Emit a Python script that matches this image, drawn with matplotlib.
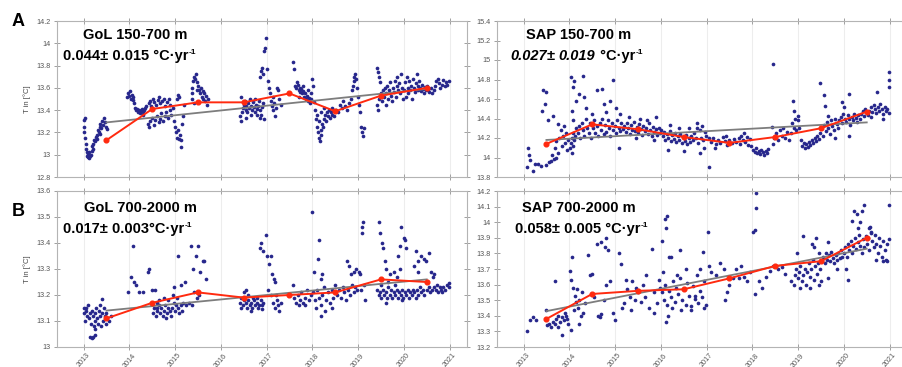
import numpy as np
import matplotlib
matplotlib.use("Agg")
import matplotlib.pyplot as plt
from matplotlib.ticker import FormatStrFormatter

plt.rcParams['font.family'] = ['Liberation Sans', 'DejaVu Sans']

gol_up = [
    (2013.00,13.31),(2013.01,13.25),(2013.02,13.20),(2013.03,13.33),(2013.04,13.15),(2013.05,13.10),(2013.06,13.05),
    (2013.07,13.02),(2013.08,12.99),(2013.10,12.98),(2013.12,12.97),(2013.14,12.99),(2013.16,13.00),(2013.18,13.03),
    (2013.19,13.08),(2013.21,13.10),(2013.23,13.13),(2013.25,13.12),(2013.27,13.16),(2013.29,13.18),(2013.31,13.22),
    (2013.33,13.20),(2013.35,13.25),(2013.37,13.28),(2013.39,13.24),(2013.41,13.30),(2013.43,13.27),(2013.45,13.33),
    (2013.47,13.29),(2013.50,13.25),(2013.52,13.23),(2013.20,13.05),(2013.09,13.01),(2013.13,13.02),(2013.30,13.14),
    (2013.36,13.19),
    (2013.95,13.52),(2013.97,13.55),(2013.99,13.53),(2014.01,13.57),(2014.03,13.50),(2014.05,13.54),(2014.07,13.52),
    (2014.09,13.49),(2014.11,13.46),(2014.13,13.42),(2014.15,13.40),(2014.17,13.41),(2014.19,13.38),(2014.21,13.40),
    (2014.23,13.37),(2014.25,13.39),(2014.27,13.41),(2014.29,13.38),(2014.31,13.36),(2014.33,13.40),(2014.35,13.42),
    (2014.37,13.44),
    (2014.42,13.46),(2014.45,13.48),(2014.48,13.44),(2014.52,13.50),(2014.55,13.47),(2014.58,13.45),(2014.62,13.49),
    (2014.65,13.52),(2014.68,13.46),(2014.72,13.48),(2014.75,13.50),(2014.78,13.44),(2014.82,13.47),(2014.86,13.50),
    (2014.90,13.45),(2014.40,13.28),(2014.43,13.25),(2014.46,13.30),(2014.50,13.33),(2014.54,13.27),(2014.57,13.31),
    (2014.60,13.35),(2014.64,13.29),(2014.67,13.32),(2014.70,13.37),(2014.74,13.30),(2014.77,13.35),(2014.80,13.38),
    (2014.84,13.33),(2014.88,13.40),(2014.92,13.36),
    (2014.96,13.42),(2014.98,13.30),(2015.00,13.25),(2015.02,13.20),(2015.04,13.15),(2015.06,13.22),(2015.08,13.14),
    (2015.10,13.18),(2015.12,13.07),(2015.14,13.13),(2015.05,13.50),(2015.07,13.54),(2015.09,13.52),(2015.16,13.28),
    (2015.18,13.35),(2015.20,13.45),
    (2015.36,13.55),(2015.38,13.60),(2015.40,13.66),(2015.42,13.70),(2015.44,13.68),(2015.46,13.72),(2015.48,13.65),
    (2015.50,13.62),(2015.52,13.58),(2015.54,13.55),(2015.56,13.60),(2015.58,13.52),(2015.60,13.57),(2015.62,13.50),
    (2015.64,13.55),(2015.66,13.48),(2015.68,13.53),(2015.70,13.45),(2015.72,13.50),(2015.38,13.50),(2015.42,13.46),
    (2015.47,13.58),
    (2016.42,13.35),(2016.44,13.30),(2016.46,13.38),(2016.48,13.42),(2016.50,13.45),(2016.52,13.48),(2016.54,13.40),
    (2016.56,13.44),(2016.58,13.38),(2016.60,13.46),(2016.62,13.42),(2016.64,13.50),(2016.66,13.44),(2016.68,13.40),
    (2016.70,13.47),(2016.72,13.43),(2016.74,13.38),(2016.76,13.45),(2016.78,13.41),(2016.80,13.36),(2016.82,13.44),
    (2016.84,13.48),(2016.86,13.40),(2016.88,13.36),(2016.90,13.43),(2016.92,13.46),(2016.94,13.32),(2016.45,13.52),
    (2016.55,13.33),(2016.65,13.36),(2016.75,13.50),(2016.85,13.33),
    (2016.86,13.70),(2016.88,13.75),(2016.90,13.78),(2016.92,13.72),(2016.95,13.93),(2016.97,13.96),(2016.99,14.05),
    (2017.01,13.77),(2017.03,13.66),(2017.05,13.60),
    (2017.07,13.55),(2017.09,13.48),(2017.11,13.44),(2017.13,13.52),(2017.15,13.40),(2017.17,13.46),(2017.19,13.35),
    (2017.21,13.42),(2017.23,13.60),(2017.25,13.58),(2017.28,13.50),(2017.31,13.45),
    (2017.57,13.83),(2017.59,13.77),
    (2017.62,13.62),(2017.64,13.60),(2017.66,13.65),(2017.68,13.63),(2017.70,13.58),(2017.72,13.60),(2017.74,13.56),
    (2017.76,13.59),(2017.78,13.55),(2017.80,13.57),(2017.82,13.52),(2017.84,13.55),(2017.86,13.50),(2017.88,13.53),
    (2017.90,13.48),(2017.92,13.51),(2017.94,13.46),(2017.96,13.50),(2017.98,13.55),(2018.00,13.68),(2018.02,13.62),
    (2018.04,13.47),(2017.70,13.52),(2017.80,13.62),(2017.90,13.58),
    (2018.06,13.40),(2018.08,13.32),(2018.10,13.25),(2018.12,13.20),(2018.14,13.15),(2018.16,13.12),(2018.18,13.18),
    (2018.20,13.22),(2018.22,13.28),(2018.24,13.25),(2018.26,13.32),(2018.28,13.36),(2018.30,13.30),(2018.32,13.38),
    (2018.34,13.35),(2018.36,13.40),(2018.38,13.33),(2018.40,13.38),(2018.42,13.42),(2018.44,13.36),(2018.46,13.40),
    (2018.48,13.35),(2018.10,13.36),(2018.15,13.30),(2018.20,13.38),(2018.25,13.42),
    (2018.52,13.40),(2018.56,13.38),(2018.60,13.45),(2018.64,13.42),(2018.68,13.48),(2018.72,13.44),(2018.76,13.40),
    (2018.80,13.46),(2018.84,13.50),
    (2018.86,13.58),(2018.88,13.62),(2018.90,13.66),(2018.92,13.70),(2018.94,13.72),(2018.96,13.68),(2018.98,13.60),
    (2019.00,13.52),(2019.02,13.45),(2019.04,13.38),(2019.06,13.25),(2019.08,13.20),(2019.10,13.17),(2019.12,13.24),
    (2019.42,13.78),(2019.44,13.74),(2019.46,13.70),(2019.48,13.65),(2019.42,13.45),(2019.44,13.40),(2019.46,13.50),
    (2019.50,13.55),(2019.52,13.48),(2019.54,13.58),(2019.56,13.52),(2019.58,13.60),(2019.60,13.45),(2019.62,13.55),
    (2019.64,13.62),(2019.66,13.50),(2019.68,13.58),(2019.70,13.65),(2019.72,13.53),(2019.74,13.48),(2019.76,13.60),
    (2019.78,13.56),(2019.80,13.66),(2019.82,13.52),(2019.84,13.62),(2019.86,13.70),(2019.88,13.58),(2019.90,13.64),
    (2019.92,13.55),(2019.94,13.72),(2019.96,13.60),(2019.98,13.50),
    (2020.00,13.58),(2020.02,13.65),(2020.04,13.52),(2020.06,13.70),(2020.08,13.60),(2020.10,13.55),(2020.12,13.66),
    (2020.14,13.58),(2020.16,13.62),(2020.18,13.50),(2020.20,13.68),(2020.22,13.60),(2020.24,13.56),(2020.26,13.64),
    (2020.28,13.72),(2020.30,13.62),(2020.32,13.58),(2020.34,13.66),(2020.36,13.60),(2020.38,13.57),(2020.40,13.63),
    (2020.42,13.59),(2020.44,13.55),(2020.46,13.61),(2020.48,13.58),
    (2020.50,13.62),(2020.53,13.58),(2020.56,13.56),(2020.59,13.60),(2020.62,13.55),(2020.65,13.58),(2020.68,13.62),
    (2020.71,13.66),(2020.74,13.68),(2020.77,13.64),(2020.80,13.60),(2020.83,13.63),(2020.86,13.67),(2020.89,13.62),
    (2020.92,13.65),(2020.95,13.63),(2020.98,13.66),
]

sap_up = [
    (2013.07,13.90),(2013.10,14.10),(2013.12,14.03),(2013.15,13.97),(2013.20,13.86),(2013.25,13.93),(2013.32,13.93),
    (2013.38,13.91),(2013.43,14.69),(2013.46,14.55),(2013.50,14.67),(2013.41,14.48),(2013.54,14.38),(2013.48,13.92),
    (2013.55,13.95),
    (2013.60,13.96),(2013.63,14.03),(2013.66,13.98),(2013.69,14.10),(2013.72,14.17),(2013.75,14.05),(2013.78,14.20),
    (2013.81,14.28),(2013.84,14.12),(2013.87,14.22),(2013.90,14.15),(2013.93,14.25),(2013.96,14.08),(2013.98,14.18),
    (2013.65,14.43),(2013.76,14.34),(2013.70,14.00),(2013.88,14.32),
    (2014.01,14.10),(2014.03,14.15),(2014.05,14.20),(2014.07,14.12),(2014.09,14.25),(2014.11,14.18),(2014.13,14.22),
    (2014.15,14.30),(2014.04,14.83),(2014.08,14.72),(2014.11,14.78),(2014.15,14.58),(2014.22,14.65),(2014.29,14.84),
    (2014.32,14.62),(2014.37,14.51),(2014.05,14.48),(2014.09,14.38),(2014.06,14.05),
    (2014.18,14.25),(2014.21,14.32),(2014.24,14.20),(2014.27,14.35),(2014.30,14.28),(2014.33,14.22),(2014.36,14.40),
    (2014.39,14.30),(2014.42,14.25),(2014.45,14.35),(2014.48,14.20),(2014.51,14.30),(2014.54,14.38),(2014.57,14.25),
    (2014.60,14.32),(2014.60,14.69),(2014.71,14.70),(2014.50,14.45),
    (2014.63,14.22),(2014.66,14.35),(2014.69,14.28),(2014.72,14.40),(2014.75,14.24),(2014.78,14.33),(2014.81,14.26),
    (2014.84,14.38),(2014.87,14.30),(2014.90,14.22),(2014.93,14.35),(2014.96,14.28),(2014.99,14.32),(2015.02,14.25),
    (2015.05,14.38),(2015.08,14.30),(2015.11,14.27),(2015.14,14.35),(2015.17,14.29),(2014.95,14.79),(2014.88,14.58),
    (2015.02,14.51),(2014.80,14.47),(2014.75,14.55),(2015.10,14.45),(2015.08,14.10),
    (2015.20,14.32),(2015.23,14.26),(2015.26,14.35),(2015.29,14.30),(2015.32,14.24),(2015.35,14.33),(2015.38,14.28),
    (2015.41,14.36),(2015.44,14.27),(2015.47,14.31),(2015.50,14.25),(2015.53,14.34),(2015.56,14.29),(2015.59,14.23),
    (2015.62,14.32),(2015.65,14.27),(2015.68,14.30),(2015.71,14.24),(2015.74,14.35),(2015.77,14.28),(2015.80,14.22),
    (2015.83,14.31),(2015.86,14.26),(2015.89,14.29),(2015.92,14.23),(2015.95,14.30),(2015.98,14.25),(2015.30,14.42),
    (2015.55,14.40),(2015.70,14.38),(2015.90,14.42),(2015.45,14.20),(2015.85,14.18),
    (2016.01,14.28),(2016.04,14.22),(2016.07,14.26),(2016.10,14.18),(2016.13,14.24),(2016.16,14.20),(2016.19,14.27),
    (2016.22,14.17),(2016.25,14.23),(2016.28,14.19),(2016.31,14.25),(2016.34,14.16),(2016.37,14.22),(2016.40,14.18),
    (2016.43,14.24),(2016.46,14.15),(2016.49,14.21),(2016.52,14.17),(2016.55,14.23),(2016.58,14.14),(2016.61,14.20),
    (2016.64,14.16),(2016.67,14.22),(2016.70,14.18),(2016.20,14.33),(2016.40,14.30),(2016.15,14.08),(2016.50,14.07),
    (2016.62,14.30),
    (2016.73,14.25),(2016.76,14.20),(2016.78,14.30),(2016.80,14.35),(2016.82,14.15),(2016.85,14.28),(2016.88,14.20),
    (2016.90,14.32),(2016.93,14.18),(2016.96,14.26),(2016.99,14.22),(2016.85,14.05),(2016.95,14.10),(2017.05,13.90),
    (2017.05,14.20),(2017.10,14.16),(2017.15,14.20),(2017.20,14.14),(2017.25,14.18),(2017.30,14.15),(2017.35,14.21),
    (2017.40,14.17),(2017.45,14.13),(2017.50,14.18),(2017.55,14.15),(2017.60,14.19),(2017.65,14.16),(2017.18,14.10),
    (2017.42,14.22),
    (2017.70,14.20),(2017.73,14.14),(2017.76,14.22),(2017.79,14.18),(2017.82,14.25),(2017.85,14.16),(2017.88,14.21),
    (2017.91,14.13),(2017.94,14.19),(2017.97,14.12),
    (2018.02,14.08),(2018.05,14.06),(2018.08,14.10),(2018.11,14.05),(2018.14,14.07),(2018.17,14.04),(2018.20,14.08),
    (2018.23,14.06),(2018.26,14.03),(2018.29,14.07),(2018.32,14.05),(2018.35,14.09),(2018.45,14.96),(2018.42,14.31),
    (2018.45,14.14),(2018.48,14.20),(2018.52,14.25),(2018.56,14.18),(2018.60,14.28),(2018.64,14.22),(2018.68,14.30),
    (2018.72,14.20),(2018.76,14.26),(2018.80,14.18),
    (2018.84,14.25),(2018.87,14.35),(2018.90,14.30),(2018.93,14.40),(2018.96,14.28),(2019.00,14.38),(2018.89,14.58),
    (2018.92,14.48),(2019.00,14.43),(2019.02,14.30),
    (2019.06,14.18),(2019.09,14.12),(2019.12,14.15),(2019.15,14.10),(2019.18,14.14),(2019.21,14.11),(2019.24,14.16),
    (2019.27,14.13),(2019.30,14.18),(2019.33,14.15),(2019.36,14.20),(2019.39,14.17),(2019.42,14.22),(2019.45,14.19),
    (2019.48,14.25),(2019.51,14.30),(2019.54,14.22),(2019.57,14.33),(2019.60,14.27),(2019.63,14.36),(2019.66,14.30),
    (2019.69,14.24),(2019.72,14.38),(2019.75,14.32),(2019.78,14.28),(2019.81,14.40),(2019.84,14.34),(2019.87,14.30),
    (2019.47,14.76),(2019.56,14.64),(2019.59,14.53),(2019.65,14.43),(2019.80,14.20),
    (2019.90,14.38),(2019.93,14.42),(2019.96,14.35),(2019.99,14.45),(2020.02,14.40),(2020.05,14.36),(2020.08,14.44),
    (2020.11,14.39),(2020.14,14.33),(2020.17,14.42),(2020.20,14.38),(2020.23,14.45),(2020.26,14.41),(2020.29,14.36),
    (2020.32,14.44),(2020.35,14.40),(2020.11,14.65),(2019.95,14.57),(2020.11,14.22),(2020.00,14.52),
    (2020.38,14.45),(2020.41,14.48),(2020.44,14.43),(2020.47,14.50),(2020.50,14.46),(2020.53,14.44),(2020.56,14.48),
    (2020.59,14.52),(2020.62,14.47),(2020.65,14.54),(2020.68,14.50),(2020.71,14.46),(2020.74,14.52),(2020.77,14.48),
    (2020.80,14.55),(2020.83,14.50),(2020.86,14.45),(2020.89,14.52),(2020.92,14.48),(2020.95,14.50),(2020.98,14.46),
    (2020.72,14.67),(2020.99,14.88),(2020.99,14.79),(2020.98,14.72),(2020.85,14.40),(2020.60,14.42),
]

gol_deep = [
    (2013.00,13.13),(2013.02,13.15),(2013.04,13.10),(2013.06,13.14),(2013.08,13.12),(2013.10,13.16),(2013.12,13.11),
    (2013.14,13.13),(2013.16,13.09),(2013.18,13.14),(2013.20,13.12),(2013.22,13.08),(2013.24,13.13),(2013.26,13.10),
    (2013.28,13.15),(2013.30,13.11),(2013.32,13.09),(2013.34,13.14),(2013.36,13.12),(2013.38,13.08),(2013.40,13.13),
    (2013.42,13.10),(2013.44,13.15),(2013.46,13.12),(2013.48,13.09),(2013.50,13.13),(2013.52,13.11),(2013.56,13.10),
    (2013.60,13.12),(2013.15,13.04),(2013.18,13.035),(2013.21,13.04),(2013.24,13.045),(2013.40,13.185),(2013.05,13.15),
    (2013.25,13.07),(2013.35,13.16),
    (2013.98,13.21),(2014.04,13.27),(2014.08,13.39),(2014.11,13.25),(2014.14,13.24),(2014.22,13.21),(2014.30,13.21),
    (2014.40,13.29),(2014.43,13.30),(2014.50,13.22),(2014.56,13.22),(2014.60,13.15),
    (2014.52,13.13),(2014.55,13.15),(2014.58,13.12),(2014.61,13.14),(2014.64,13.16),(2014.67,13.13),(2014.70,13.15),
    (2014.73,13.12),(2014.76,13.14),(2014.79,13.16),(2014.82,13.13),(2014.85,13.15),(2014.88,13.14),(2014.91,13.12),
    (2014.94,13.15),(2014.97,13.17),(2015.00,13.14),(2015.03,13.16),(2015.06,13.15),(2015.09,13.13),(2015.12,13.16),
    (2015.15,13.14),(2015.18,13.17),(2014.65,13.18),(2014.75,13.19),(2014.85,13.18),(2014.95,13.20),(2014.98,13.23),
    (2015.05,13.19),(2014.60,13.17),(2014.80,13.11),
    (2015.07,13.35),(2015.14,13.24),(2015.22,13.25),(2015.23,13.16),(2015.30,13.17),(2015.38,13.16),(2015.35,13.39),
    (2015.40,13.30),(2015.46,13.35),(2015.50,13.39),(2015.55,13.29),(2015.60,13.33),(2015.64,13.33),(2015.68,13.26),
    (2015.42,13.21),(2015.53,13.20),(2015.48,13.19),
    (2016.42,13.17),(2016.45,13.19),(2016.48,13.16),(2016.51,13.18),(2016.54,13.17),(2016.57,13.15),(2016.60,13.18),
    (2016.63,13.16),(2016.66,13.17),(2016.69,13.15),(2016.72,13.18),(2016.75,13.16),(2016.78,13.17),(2016.81,13.15),
    (2016.84,13.16),(2016.87,13.18),(2016.90,13.16),(2016.93,13.17),(2016.50,13.21),(2016.55,13.22),(2016.60,13.20),
    (2016.45,13.15),(2016.70,13.19),(2016.80,13.19),(2016.65,13.14),(2016.90,13.145),
    (2016.85,13.38),(2016.88,13.40),(2016.92,13.37),(2016.99,13.43),(2017.02,13.35),(2017.06,13.32),(2017.09,13.35),
    (2017.12,13.28),(2017.16,13.26),(2017.19,13.25),(2017.04,13.22),(2017.10,13.20),
    (2017.15,13.17),(2017.18,13.15),(2017.22,13.18),(2017.25,13.16),(2017.28,13.14),(2017.32,13.17),(2017.20,13.20),
    (2017.58,13.24),(2017.60,13.19),(2017.64,13.17),(2017.68,13.20),(2017.72,13.18),(2017.76,13.21),(2017.80,13.17),
    (2017.84,13.19),(2017.88,13.22),(2017.92,13.18),(2017.96,13.20),(2017.70,13.16),(2017.85,13.16),
    (2018.00,13.52),(2018.15,13.41),(2018.12,13.34),(2018.04,13.29),(2018.22,13.28),(2018.18,13.26),
    (2018.02,13.21),(2018.06,13.18),(2018.10,13.22),(2018.14,13.19),(2018.18,13.16),(2018.20,13.12),(2018.22,13.20),
    (2018.26,13.23),(2018.30,13.18),(2018.34,13.21),(2018.38,13.17),(2018.42,13.22),(2018.46,13.19),(2018.50,13.24),
    (2018.08,13.15),(2018.28,13.14),(2018.44,13.15),
    (2018.54,13.20),(2018.58,13.22),(2018.62,13.19),(2018.66,13.23),(2018.70,13.21),(2018.74,13.18),(2018.78,13.22),
    (2018.82,13.20),(2018.86,13.24),(2018.90,13.21),(2018.94,13.23),(2018.98,13.22),(2018.76,13.33),(2018.80,13.31),
    (2018.84,13.28),(2018.91,13.29),(2018.95,13.30),
    (2019.02,13.29),(2019.05,13.28),(2019.08,13.44),(2019.10,13.48),(2019.09,13.46),(2019.06,13.22),(2019.12,13.24),
    (2019.15,13.18),
    (2019.45,13.48),(2019.48,13.44),(2019.52,13.40),(2019.55,13.38),(2019.58,13.33),(2019.62,13.30),(2019.70,13.28),
    (2019.78,13.29),(2019.85,13.27),(2019.92,13.30),
    (2019.42,13.22),(2019.45,13.20),(2019.48,13.21),(2019.51,13.19),(2019.54,13.22),(2019.57,13.20),(2019.60,13.21),
    (2019.63,13.19),(2019.66,13.23),(2019.69,13.20),(2019.72,13.22),(2019.75,13.19),(2019.78,13.21),(2019.81,13.20),
    (2019.84,13.22),(2019.87,13.19),(2019.90,13.21),(2019.93,13.20),(2019.96,13.22),(2019.99,13.19),(2019.50,13.24),
    (2019.65,13.25),(2019.80,13.24),(2019.95,13.18),(2019.60,13.17),
    (2019.94,13.46),(2020.00,13.42),(2020.03,13.41),(2019.92,13.39),(2020.05,13.38),(2019.88,13.35),
    (2020.02,13.21),(2020.05,13.20),(2020.08,13.22),(2020.11,13.19),(2020.14,13.21),(2020.17,13.20),(2020.20,13.22),
    (2020.23,13.21),(2020.26,13.19),(2020.29,13.22),(2020.32,13.20),(2020.35,13.23),(2020.38,13.21),(2020.41,13.22),
    (2020.44,13.20),
    (2020.27,13.37),(2020.31,13.33),(2020.38,13.35),(2020.45,13.34),(2020.49,13.33),(2020.56,13.36),(2020.22,13.31),
    (2020.30,13.29),(2020.60,13.29),(2020.66,13.28),(2020.63,13.27),
    (2020.50,13.22),(2020.54,13.23),(2020.58,13.21),(2020.62,13.22),(2020.66,13.23),(2020.70,13.22),(2020.74,13.21),
    (2020.78,13.23),(2020.82,13.22),(2020.86,13.23),(2020.90,13.22),(2020.94,13.24),(2020.98,13.23),(2020.99,13.245),
    (2020.84,13.21),(2020.72,13.24),
]

sap_deep = [
    (2013.08,13.30),(2013.14,13.37),(2013.20,13.39),(2013.28,13.37),
    (2013.49,13.44),(2013.52,13.34),(2013.56,13.35),(2013.60,13.33),(2013.64,13.36),(2013.69,13.62),(2013.68,13.35),
    (2013.72,13.38),(2013.76,13.40),(2013.80,13.36),(2013.84,13.39),(2013.88,13.37),(2013.92,13.40),(2013.96,13.38),
    (2013.85,13.28),(2013.76,13.33),(2013.90,13.42),(2013.98,13.35),
    (2014.02,13.69),(2014.05,13.78),(2014.03,13.63),(2014.08,13.58),(2014.12,13.53),(2014.15,13.49),(2014.18,13.45),
    (2014.21,13.35),(2014.25,13.40),(2014.28,13.55),(2014.31,13.42),(2014.03,13.31),(2014.10,13.44),(2014.16,13.57),
    (2014.22,13.50),(2014.41,13.79),(2014.35,13.48),
    (2014.45,13.66),(2014.49,13.67),(2014.60,13.86),(2014.70,13.87),(2014.77,13.84),(2014.81,13.90),(2014.84,13.82),
    (2014.62,13.40),(2014.66,13.39),(2014.70,13.41),(2014.81,13.60),(2014.88,13.62),(2014.95,13.42),(2014.99,13.37),
    (2014.55,13.52),(2014.75,13.50),
    (2015.08,13.80),(2015.12,13.73),(2015.20,13.48),(2015.26,13.57),(2015.32,13.52),(2015.38,13.62),(2015.44,13.50),
    (2015.50,13.55),(2015.56,13.49),(2015.62,13.60),(2015.68,13.66),(2015.74,13.45),(2015.80,13.83),(2015.86,13.55),
    (2015.92,13.48),(2015.98,13.58),(2015.15,13.45),(2015.35,13.44),(2015.65,13.52),(2015.85,13.42),(2015.95,13.63),
    (2015.45,13.58),(2015.25,13.63),
    (2016.02,13.55),(2016.06,13.50),(2016.10,13.60),(2016.14,13.47),(2016.18,13.56),(2016.22,13.52),(2016.26,13.62),
    (2016.30,13.49),(2016.34,13.58),(2016.38,13.54),(2016.42,13.64),(2016.46,13.50),(2016.50,13.57),(2016.54,13.47),
    (2016.58,13.61),(2016.62,13.53),(2016.66,13.46),(2016.70,13.59),(2016.74,13.51),(2016.78,13.66),(2016.82,13.48),
    (2016.86,13.56),(2016.90,13.52),(2016.94,13.62),(2016.98,13.47),
    (2016.05,13.68),(2016.15,13.40),(2016.25,13.45),(2016.35,13.66),(2016.45,13.44),(2016.55,13.70),(2016.65,13.44),
    (2016.75,13.53),(2016.85,13.70),(2016.95,13.45),(2016.12,13.36),(2016.22,13.78),
    (2016.13,14.04),(2016.12,13.96),(2016.10,14.02),(2016.03,13.88),(2016.18,13.78),(2016.43,13.82),(2016.93,13.81),
    (2017.04,13.94),(2017.05,13.72),(2017.10,13.68),(2017.20,13.66),(2017.30,13.74),(2017.38,13.70),(2017.45,13.55),
    (2017.50,13.60),(2017.58,13.64),(2017.65,13.70),(2017.75,13.72),(2017.82,13.65),(2017.88,13.62),(2017.95,13.68),
    (2017.40,13.50),(2017.70,13.64),
    (2018.02,13.94),(2018.05,13.95),(2018.08,14.09),(2018.09,14.19),(2018.05,13.54),(2018.15,13.62),(2018.22,13.58),
    (2018.30,13.65),(2018.38,13.69),(2018.45,13.72),(2018.55,13.70),(2018.65,13.71),(2018.72,13.67),(2018.85,13.62),
    (2018.90,13.60),(2018.93,13.66),(2018.96,13.70),(2018.99,13.64),(2019.02,13.68),(2019.05,13.72),(2019.08,13.62),
    (2019.11,13.66),(2019.14,13.70),(2019.17,13.60),(2019.20,13.68),(2019.23,13.74),(2019.26,13.65),(2019.29,13.70),
    (2019.32,13.76),(2019.35,13.63),(2019.38,13.72),(2019.41,13.67),(2019.44,13.74),(2019.47,13.70),
    (2018.97,13.80),(2019.10,13.91),(2019.30,13.86),(2019.40,13.90),(2019.45,13.80),(2019.05,13.58),(2019.25,13.58),
    (2019.45,13.60),(2019.50,13.62),(2019.35,13.84),
    (2019.52,13.75),(2019.55,13.78),(2019.58,13.74),(2019.61,13.80),(2019.64,13.76),(2019.67,13.79),(2019.70,13.75),
    (2019.73,13.81),(2019.76,13.77),(2019.79,13.74),(2019.82,13.79),(2019.85,13.76),(2019.88,13.80),(2019.91,13.77),
    (2019.94,13.82),(2019.97,13.78),(2019.66,13.87),(2019.66,13.64),(2019.85,13.70),
    (2020.00,13.80),(2020.03,13.84),(2020.06,13.78),(2020.09,13.86),(2020.12,13.82),(2020.15,13.88),(2020.18,13.80),
    (2020.21,13.85),(2020.24,13.90),(2020.27,13.83),(2020.30,13.87),(2020.33,13.92),(2020.36,13.85),(2020.39,13.80),
    (2020.42,13.89),(2020.45,13.84),(2020.48,13.91),
    (2020.18,14.01),(2020.22,14.07),(2020.28,14.05),(2020.39,14.07),(2020.44,14.11),(2020.10,13.63),(2020.05,13.70),
    (2020.30,13.96),(2020.35,14.00),
    (2020.50,13.86),(2020.53,13.90),(2020.56,13.82),(2020.59,13.94),(2020.62,13.88),(2020.65,13.84),(2020.68,13.92),
    (2020.71,13.86),(2020.74,13.80),(2020.77,13.90),(2020.80,13.85),(2020.83,13.78),(2020.86,13.88),(2020.89,13.82),
    (2020.92,13.76),(2020.95,13.86),(2020.98,13.89),(2020.55,13.96),(2020.58,13.97),(2020.70,13.76),(2020.85,13.75),
    (2020.99,14.11),(2020.95,13.75),(2020.60,13.93),
]

# annual means (mid-year) and linear trend end points
years_mid = [2013.5, 2014.5, 2015.5, 2016.5, 2017.5, 2018.5, 2019.5, 2020.5]
gol_up_annual = [13.13, 13.41, 13.47, 13.47, 13.55, 13.39, 13.53, 13.60]
sap_up_annual = [14.14, 14.34, 14.29, 14.21, 14.15, 14.21, 14.30, 14.47]
gol_deep_annual = [13.11, 13.17, 13.21, 13.19, 13.20, 13.21, 13.26, 13.25]
sap_deep_annual = [13.38, 13.54, 13.56, 13.57, 13.64, 13.72, 13.75, 13.90]

trend_x = [2013.5, 2020.5]
gol_up_trend = [13.29, 13.59]
sap_up_trend = [14.18, 14.36]
gol_deep_trend = [13.14, 13.26]
sap_deep_trend = [13.43, 13.83]

# rate text pieces: (text, italic?)
panels = [
    dict(obs=gol_up, ann=gol_up_annual, trend=gol_up_trend, ylim=(12.8, 14.2), step=0.2,
         title='GoL 150-700 m', rate=[('0.044± 0.015 °C·yr', False)]),
    dict(obs=sap_up, ann=sap_up_annual, trend=sap_up_trend, ylim=(13.8, 15.4), step=0.2,
         title='SAP 150-700 m', rate=[('0.027', True), ('± ', False), ('0.019', True), (' °C·yr', False)]),
    dict(obs=gol_deep, ann=gol_deep_annual, trend=gol_deep_trend, ylim=(13.0, 13.6), step=0.1,
         title='GoL 700-2000 m', rate=[('0.017± 0.003°C·yr', False)]),
    dict(obs=sap_deep, ann=sap_deep_annual, trend=sap_deep_trend, ylim=(13.2, 14.2), step=0.1,
         title='SAP 700-2000 m', rate=[('0.058± 0.005 °C·yr', False)]),
]

W, H = 903, 367
fig = plt.figure(figsize=(W / 100, H / 100), dpi=100)
renderer = fig.canvas.get_renderer()

# axes boxes in pixels: (left, top, width, height)
boxes = [(57, 21, 410, 156), (497, 21, 410, 156), (57, 191, 410, 156), (497, 191, 410, 156)]
# title centre and rate-line left/baseline in pixels
title_pos = [(135, 35), (579, 35), (140, 208), (579, 208)]
rate_pos = [(63, 60), (510, 60), (63, 233), (515, 233)]

spine_c = '#b4b4b4'
dot_c = '#27278c'
red_c = '#ff2a0f'
gray_c = '#7d7d7d'

for i, (p, (l, t, w, h)) in enumerate(zip(panels, boxes)):
    ax = fig.add_axes([l / W, 1 - (t + h) / H, w / W, h / H])
    obs = np.array(p['obs'])
    ax.scatter(obs[:, 0], obs[:, 1], s=7, color=dot_c, linewidths=0, zorder=2)
    ax.plot(trend_x, p['trend'], color=gray_c, lw=1.3, zorder=3)
    ax.plot(years_mid, p['ann'], color=red_c, lw=1.4, marker='o', ms=3.4, zorder=4)

    ax.set_xlim(2012.42, 2021.38)
    ax.set_ylim(*p['ylim'])
    ax.set_xticks(range(2013, 2022))
    ax.set_yticks(np.round(np.arange(p['ylim'][0], p['ylim'][1] + 1e-6, p['step']), 2))
    ax.yaxis.set_major_formatter(FormatStrFormatter('%g'))
    ax.grid(axis='x', color='#ededed', lw=0.8, zorder=0)
    for s in ax.spines.values():
        s.set_color(spine_c)
        s.set_linewidth(0.8)
    ax.tick_params(direction='inout', length=5, width=0.7, color='#a0a0a0',
                   labelsize=5.2, labelcolor='#555555', top=True, right=True, pad=2)
    if i < 2:
        ax.tick_params(labelbottom=False)
    else:
        for lab in ax.get_xticklabels():
            lab.set_rotation(50)
            lab.set_ha('center')
        ax.tick_params(axis='x', labelsize=5.2, pad=1)
    if i % 2 == 0:
        ax.set_ylabel('T in [°C]', fontsize=5.5, color='#444444', labelpad=4)

    tx, ty = title_pos[i]
    fig.text(tx / W, 1 - ty / H, p['title'], fontsize=10.5, fontweight='bold',
             ha='center', va='center')

    # rate line built piece by piece (mixed italic + small superscript)
    x, yb = rate_pos[i]
    for txt, ital in p['rate']:
        tt = fig.text(x / W, 1 - yb / H, txt, fontsize=10.5, fontweight='bold',
                      style='italic' if ital else 'normal', ha='left', va='baseline')
        x = tt.get_window_extent(renderer).x1
    fig.text((x + 0.5) / W, 1 - (yb - 6) / H, '-1', fontsize=6, fontweight='bold',
             ha='left', va='baseline')

fig.text(18 / W, 1 - 21 / H, 'A', fontsize=13, fontweight='bold', ha='center', va='center')
fig.text(18 / W, 1 - 212 / H, 'B', fontsize=13, fontweight='bold', ha='center', va='center')

fig.savefig('out.png', dpi=100)
